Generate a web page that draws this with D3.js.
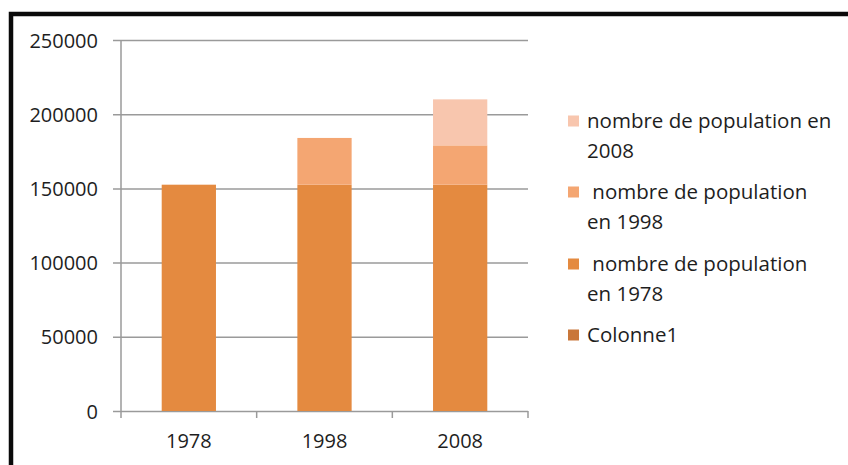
<!DOCTYPE html>
<html>
<head>
<meta charset="utf-8">
<script src="https://cdn.jsdelivr.net/npm/d3@7"></script>
<style>
  html, body { margin: 0; padding: 0; background: #ffffff; }
  svg { display: block; }
  text { font-family: "Open Sans", "Liberation Sans", sans-serif; fill: #1e1e1e; }
</style>
</head>
<body>
<svg id="chart" width="848" height="465"></svg>
<script>
// Years on the category axis
const categories = ["1978", "1998", "2008"];

// Stacked segment values per year (bottom to top)
const pop1978 = [152500, 152500, 152500];
const pop1998 = [0, 31500, 26500];
const pop2008 = [0, 0, 31000];
const colonne1 = [0, 0, 0];

// Series names, as shown in the legend
const seriesNames = [
  "nombre de population en 1978",
  "nombre de population en 1998",
  "nombre de population en 2008",
  "Colonne1"
];
const seriesColors = ["#e48a40", "#f4a672", "#f8c6ae", "#c9773a"];

// Legend lines (top to bottom), each entry may wrap over two lines
const legendEntries = [
  { lines: ["nombre de population en", "2008"], series: 2 },
  { lines: [" nombre de population", "en 1998"], series: 1 },
  { lines: [" nombre de population", "en 1978"], series: 0 },
  { lines: ["Colonne1"], series: 3 }
];

// Value axis ticks
const yTicks = [0, 50000, 100000, 150000, 200000, 250000];

const svg = d3.select("#chart");

// Table for d3.stack built from the series arrays
const table = categories.map((c, i) => ({
  year: c,
  s0: pop1978[i],
  s1: pop1998[i],
  s2: pop2008[i],
  s3: colonne1[i]
}));
const keys = ["s0", "s1", "s2", "s3"];
const stacked = d3.stack().keys(keys)(table);

const plot = { left: 121, right: 528, top: 40, bottom: 411 };

const x = d3.scaleBand()
  .domain(categories)
  .range([plot.left, plot.right])
  .paddingInner(0.6)
  .paddingOuter(0.3);

const y = d3.scaleLinear()
  .domain([0, 250000])
  .range([plot.bottom, plot.top]);

// Outer frame (only the top and left edges fall inside the view)
svg.append("path")
  .attr("d", `M11,470 L11,14 L860,14`)
  .attr("fill", "none")
  .attr("stroke", "#0a0a0a")
  .attr("stroke-width", 4.5);

// Horizontal gridlines with their tick stubs, via a y axis
const yAxis = d3.axisLeft(y)
  .tickValues(yTicks)
  .tickSize(-(plot.right - plot.left))
  .tickFormat(d3.format("d"))
  .tickPadding(0);

const gy = svg.append("g")
  .attr("transform", `translate(${plot.left},0)`)
  .call(yAxis);
gy.select(".domain").remove();
gy.selectAll(".tick line")
  .attr("x1", -8)
  .attr("stroke", "#9a9a9a")
  .attr("stroke-width", 1.5);
gy.selectAll(".tick text")
  .attr("x", -23)
  .attr("dy", "0.35em")
  .style("font-size", "20px")
  .style("font-family", "'Open Sans', sans-serif")
  .attr("fill", "#1e1e1e");

// Vertical value axis line
svg.append("line")
  .attr("x1", plot.left).attr("x2", plot.left)
  .attr("y1", plot.top).attr("y2", plot.bottom)
  .attr("stroke", "#9a9a9a")
  .attr("stroke-width", 1.5);

// Category axis: baseline, tick marks at band edges and labels
const step = x.step();
const edges = d3.range(categories.length + 1).map(i => plot.left + i * step);
svg.append("g").selectAll("line")
  .data(edges)
  .join("line")
  .attr("x1", d => d).attr("x2", d => d)
  .attr("y1", plot.bottom).attr("y2", plot.bottom + 7)
  .attr("stroke", "#9a9a9a")
  .attr("stroke-width", 1.5);

svg.append("g").selectAll("text")
  .data(categories)
  .join("text")
  .attr("x", d => x(d) + x.bandwidth() / 2)
  .attr("y", 441)
  .attr("dy", "0.35em")
  .attr("text-anchor", "middle")
  .style("font-size", "20px")
  .text(d => d);

// Stacked bars
svg.append("g").selectAll("g")
  .data(stacked)
  .join("g")
  .attr("fill", (d, i) => seriesColors[i])
  .selectAll("rect")
  .data(d => d)
  .join("rect")
  .attr("x", d => x(d.data.year))
  .attr("width", x.bandwidth())
  .attr("y", d => y(d[1]))
  .attr("height", d => y(d[0]) - y(d[1]));

// Legend
const legendTop = [121, 192, 264, 335];
const lg = svg.append("g");
legendEntries.forEach((e, i) => {
  const cy = legendTop[i];
  lg.append("rect")
    .attr("x", 568).attr("y", cy - 5.5)
    .attr("width", 11).attr("height", 11)
    .attr("fill", seriesColors[e.series]);
  e.lines.forEach((ln, j) => {
    lg.append("text")
      .attr("x", 587)
      .attr("y", cy + j * 29.5)
      .attr("dy", "0.35em")
      .style("font-size", "20.5px")
      .style("white-space", "pre")
      .attr("xml:space", "preserve")
      .text(ln);
  });
});
</script>
</body>
</html>
